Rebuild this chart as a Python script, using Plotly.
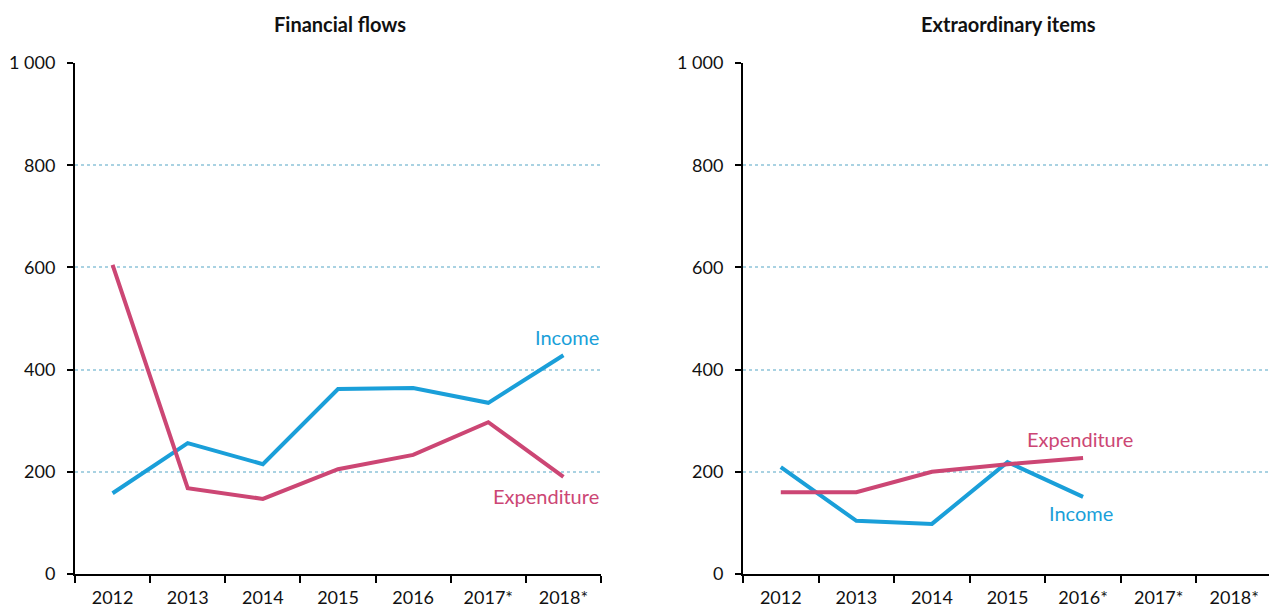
import plotly.graph_objects as go
from plotly.subplots import make_subplots

years_left = ["2012", "2013", "2014", "2015", "2016", "2017*", "2018*"]
years_right = ["2012", "2013", "2014", "2015", "2016*", "2017*", "2018*"]

flows_income = [158, 256, 215, 362, 364, 335, 428]
flows_expenditure = [605, 168, 147, 205, 233, 297, 190]

extra_income = [209, 104, 98, 219, 151]
extra_expenditure = [160, 160, 200, 215, 227]

blue = "#1a9fd9"
pink = "#cc4674"
font_name = "Lato, 'Open Sans', sans-serif"

fig = make_subplots(rows=1, cols=2)

fig.add_trace(go.Scatter(x=years_left, y=flows_income, mode="lines",
                         line=dict(color=blue, width=4)), row=1, col=1)
fig.add_trace(go.Scatter(x=years_left, y=flows_expenditure, mode="lines",
                         line=dict(color=pink, width=4)), row=1, col=1)
fig.add_trace(go.Scatter(x=years_right[:len(extra_income)], y=extra_income, mode="lines",
                         line=dict(color=blue, width=4)), row=1, col=2)
fig.add_trace(go.Scatter(x=years_right[:len(extra_expenditure)], y=extra_expenditure, mode="lines",
                         line=dict(color=pink, width=4)), row=1, col=2)

# page body has an 8px margin, so figure coords = screen coords - 8
W, H = 1269, 606
OFF = 8
top, bottom = 63 - OFF, 574 - OFF

axis_x = dict(type="category", tickson="boundaries", ticks="outside", ticklen=7,
              tickwidth=2, tickcolor="black", showline=True, linecolor="black",
              linewidth=2, showgrid=False, range=[-0.5, 6.5], ticklabelstandoff=6,
              tickfont=dict(size=18, color="#111"))
fig.update_xaxes(**axis_x)
fig.update_xaxes(categoryarray=years_left, categoryorder="array",
                 domain=[(75 - OFF) / W, (601 - OFF) / W], row=1, col=1)
fig.update_xaxes(categoryarray=years_right, categoryorder="array",
                 domain=[(743 - OFF) / W, (1272 - OFF) / W], row=1, col=2)
fig.update_yaxes(range=[0, 1000], tickvals=[0, 200, 400, 600, 800, 1000],
                 ticktext=["0", "200", "400", "600", "800", "1 000"],
                 ticks="outside", ticklen=6, tickwidth=2, tickcolor="black",
                 showline=True, linecolor="black", linewidth=2, ticklabelstandoff=8,
                 showgrid=True, gridcolor="#a9d2e2", gridwidth=2, griddash="dot",
                 zeroline=False, tickfont=dict(size=18, color="#111"), domain=[0, 1])

title_y = (574 - 24) / (574 - 63)
anns = [
    dict(text="<b>Financial flows</b>", x=(340 - OFF) / W, y=title_y, xref="paper", yref="paper",
         xanchor="center", yanchor="middle", showarrow=False, font=dict(size=20, color="#111")),
    dict(text="<b>Extraordinary items</b>", x=(1008 - OFF) / W, y=title_y, xref="paper", yref="paper",
         xanchor="center", yanchor="middle", showarrow=False, font=dict(size=20, color="#111")),
    dict(text="Income", x=6.5, y=464, xref="x", yref="y", xanchor="right",
         showarrow=False, font=dict(size=20, color=blue)),
    dict(text="Expenditure", x=6.5, y=153, xref="x", yref="y", xanchor="right",
         showarrow=False, font=dict(size=20, color=pink)),
    dict(text="Expenditure", x=3.96, y=264, xref="x2", yref="y2", xanchor="center",
         showarrow=False, font=dict(size=20, color=pink)),
    dict(text="Income", x=3.97, y=119, xref="x2", yref="y2", xanchor="center",
         showarrow=False, font=dict(size=20, color=blue)),
]

fig.update_layout(
    width=W, height=H,
    margin=dict(l=0, r=0, t=top, b=H - bottom),
    showlegend=False,
    plot_bgcolor="white",
    paper_bgcolor="white",
    font=dict(family=font_name, color="#111"),
    annotations=anns,
)

fig.write_html("out.html")
